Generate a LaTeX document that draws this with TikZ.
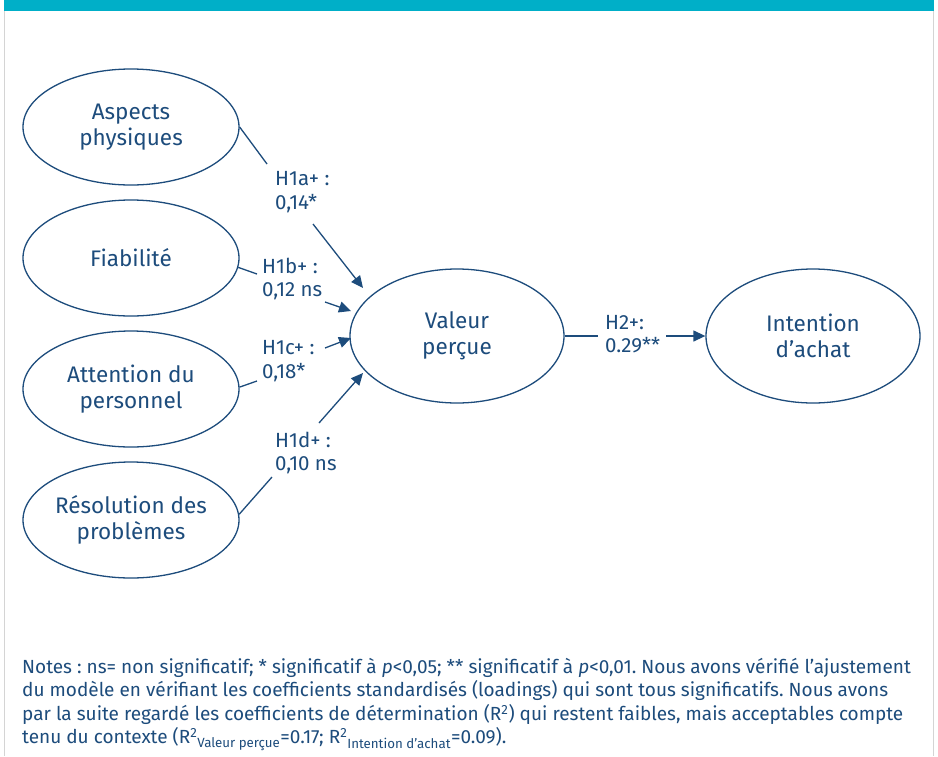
\documentclass[tikz,border=0pt]{standalone}
\usepackage{fontspec}
\setmainfont{Fira Sans}
\usetikzlibrary{arrows.meta,shapes.geometric}
\definecolor{navy}{HTML}{1D4C7C}
\definecolor{barteal}{HTML}{00AFC8}
\definecolor{framegray}{HTML}{D4D4D4}
\tikzset{
  construct/.style={ellipse, draw=navy, line width=1.3pt, text=navy,
    minimum width=216pt, minimum height=116pt, inner sep=0pt, align=center,
    font=\fontsize{22.5}{26}\selectfont},
  bigconstruct/.style={construct, minimum width=214pt, minimum height=134pt},
  lab/.style={text=navy, inner sep=0pt, anchor=west, align=left,
    font=\fontsize{20.5}{23.5}\selectfont},
  conn/.style={draw=navy, line width=1.3pt},
  arr/.style={conn, -{Triangle[length=12pt,width=11pt]}}
}
\begin{document}
\frenchspacing
\begin{tikzpicture}[x=1pt,y=-1pt]
\useasboundingbox (0,0) rectangle (938,756);
\fill[white] (0,0) rectangle (938,756);
\draw[framegray, line width=1pt] (4.5,0) -- (4.5,756);
\draw[framegray, line width=1pt] (933.5,0) -- (933.5,756);
\fill[barteal] (4,0) rectangle (934,11);

% constructs
\node[construct] (ap) at (131,127) {Aspects\\physiques};
\node[construct] (fi) at (131,258) {Fiabilité};
\node[construct] (at) at (131,389) {Attention du\\personnel};
\node[construct] (re) at (131,520) {Résolution des\\problèmes};
\node[bigconstruct] (vp) at (457,336) {Valeur\\perçue};
\node[bigconstruct] (ia) at (813,336) {Intention\\d’achat};

% labels
\node[lab] (l1a) at (275,192) {H1a+ :\\0,14*};
\node[lab] (l1b) at (262,279) {H1b+ :\\0,12 ns};
\node[lab] (l1c) at (262,361) {H1c+ :\\0,18*};
\node[lab] (l1d) at (275,453) {H1d+ :\\0,10 ns};
\node[lab] (l2) at (605,334) {H2+:\\0.29**};

% connector waypoints
\coordinate (a1m) at (267,164); \coordinate (a1n) at (313,224); \coordinate (a1t) at (363,288);
\coordinate (b1m) at (257,274); \coordinate (b1n) at (325,302); \coordinate (b1t) at (351,311);
\coordinate (c1m) at (257,381); \coordinate (c1n) at (325,348); \coordinate (c1t) at (351,338);
\coordinate (d1m) at (272,477); \coordinate (d1n) at (319,423); \coordinate (d1t) at (363,373);
\coordinate (h2m) at (598,336); \coordinate (h2n) at (666,336);

\draw[conn] (ap.east) -- (a1m);
\draw[arr] (a1n) -- (a1t);
\draw[conn] (fi.-5) -- (b1m);
\draw[arr] (b1n) -- (b1t);
\draw[conn] (at.1) -- (c1m);
\draw[arr] (c1n) -- (c1t);
\draw[conn] (re.3) -- (d1m);
\draw[arr] (d1n) -- (d1t);
\draw[conn] (vp.east) -- (h2m);
\draw[arr] (h2n) -- (ia.west);

% notes
\node[anchor=north west, inner sep=0pt, align=left, text=navy,
  font=\fontsize{19}{23.5}\selectfont] (notes) at (22,658)
{Notes : ns= non significatif; * significatif à \textit{p}<0,05; ** significatif à \textit{p}<0,01. Nous avons vérifié l’ajustement\\
du modèle en vérifiant les coefficients standardisés (loadings) qui sont tous significatifs. Nous avons\\
par la suite regardé les coefficients de détermination (R\textsuperscript{2}) qui restent faibles, mais acceptables compte\\
tenu du contexte (R\textsuperscript{2}\textsubscript{Valeur perçue}=0.17; R\textsuperscript{2}\textsubscript{Intention d’achat}=0.09).};
\end{tikzpicture}
\end{document}
